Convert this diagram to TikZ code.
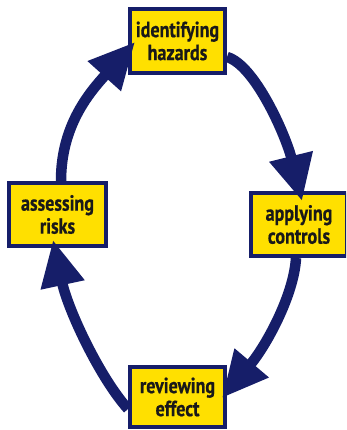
\documentclass[tikz,border=0pt]{standalone}
\usepackage{fontspec}
\setmainfont{PT Sans}
\newfontfamily\boxfont[FakeStretch=0.82,FakeBold=0.6]{PT Sans}
\usetikzlibrary{arrows.meta,calc}
\definecolor{navy}{RGB}{22,30,105}
\definecolor{boxyellow}{RGB}{255,224,0}
\definecolor{ink}{RGB}{25,25,25}
\tikzset{
  stepbox/.style={draw=navy, line width=4pt, fill=boxyellow, align=center,
    inner sep=0pt, text=ink, font=\boxfont\bfseries\fontsize{22}{23}\selectfont},
  cyc/.style={draw=navy, line width=10.5pt,
    -{Triangle[length=46pt,width=42pt,fill=navy]}}
}
\begin{document}
\begin{tikzpicture}[x=1pt,y=-1pt]
\useasboundingbox (0,0) rectangle (346,430);
\fill[white] (0,0) rectangle (346,430);
\begin{scope}
\clip (0,0) rectangle (346,430);
\node[stepbox, minimum width=95pt, minimum height=64pt] (T) at (177.5,41) {identifying\\hazards};
\node[stepbox, minimum width=97pt, minimum height=63pt] (L) at (57.5,214.5) {assessing\\risks};
\node[stepbox, minimum width=96pt, minimum height=63pt] (R) at (299,224.5) {applying\\controls};
\node[stepbox, minimum width=95pt, minimum height=60pt] (B) at (177.5,397) {reviewing\\effect};
\coordinate (t1) at (135,42);
\coordinate (t2) at (302,201);
\coordinate (t3) at (222,398);
\coordinate (t4) at (53,240);
\draw[cyc] ([xshift=3.5pt]L.north) .. controls (61,125) and (90,92) .. (t1);
\draw[cyc] ([yshift=-16pt]T.east) .. controls (255,65) and (286,136) .. (t2);
\draw[cyc] ([xshift=-3pt]R.south) .. controls (294,295) and (266,346) .. (t3);
\draw[cyc] ([yshift=-12pt]B.west) .. controls (100,378) and (68,310) .. (t4);
\end{scope}
\end{tikzpicture}
\end{document}
